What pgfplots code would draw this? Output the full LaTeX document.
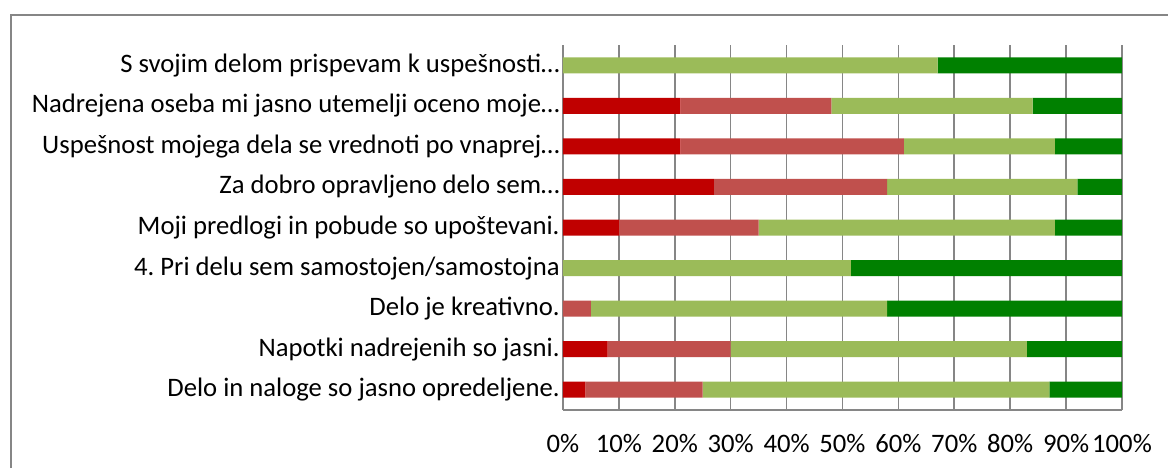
\documentclass[border=0pt]{standalone}
\usepackage{fontspec}
\setmainfont{Carlito}
\usepackage{pgfplots}
\pgfplotsset{compat=1.18}
\usepackage{pgfplotstable}

\definecolor{rdark}{HTML}{C00000}
\definecolor{rlight}{HTML}{C0504D}
\definecolor{glight}{HTML}{9BBB59}
\definecolor{gdark}{HTML}{008000}
\definecolor{gridgray}{HTML}{868686}

% rows from bottom (0) to top (8), shares in %
\pgfplotstableread{
y  a   b   c     d
0  4   21  62    13
1  8   22  53    17
2  0   5   53    42
3  0   0   51.5  48.5
4  10  25  53    12
5  27  31  34    8
6  21  40  27    12
7  21  27  36    16
8  0   0   67    33
}\data

\begin{document}
\frenchspacing
\begin{tikzpicture}
\useasboundingbox (-422.25pt,-43.5pt) rectangle (453.75pt,307.5pt);
\draw[gridgray, line width=1.2pt] (-414pt,-43.5pt) -- (-414pt,296.25pt) -- (453.75pt,296.25pt);
\begin{axis}[
    at={(0pt,0pt)}, anchor=south west,
    scale only axis,
    width=419.25pt, height=273.75pt,
    xbar stacked,
    bar width=12pt,
    xmin=0, xmax=100,
    ymin=-0.5, ymax=8.5,
    xtick={0,10,...,100},
    xticklabel={\pgfmathprintnumber{\tick}\%},
    ytick={0,...,8},
    yticklabels={
        Delo in naloge so jasno opredeljene.,
        Napotki nadrejenih so jasni.,
        Delo je kreativno.,
        4. Pri delu sem samostojen/samostojna,
        Moji predlogi in pobude so upoštevani.,
        Za dobro opravljeno delo sem…,
        Uspešnost mojega dela se vrednoti po vnaprej…,
        Nadrejena oseba mi jasno utemelji oceno moje…,
        S svojim delom prispevam k uspešnosti…},
    major tick length=0pt,
    axis lines*=left,
    axis line style={gridgray, line width=1.2pt},
    xmajorgrids,
    grid style={gridgray, line width=1.2pt},
    ticklabel style={font=\fontsize{20}{23}\selectfont},
    yticklabel style={xshift=1pt},
    xticklabel style={yshift=-15pt},
    /pgf/number format/assume math mode=true,
]
\addplot[fill=rdark, draw=none] table[x=a, y=y] {\data};
\addplot[fill=rlight, draw=none] table[x=b, y=y] {\data};
\addplot[fill=glight, draw=none] table[x=c, y=y] {\data};
\addplot[fill=gdark, draw=none] table[x=d, y=y] {\data};
\end{axis}
\end{tikzpicture}
\end{document}
